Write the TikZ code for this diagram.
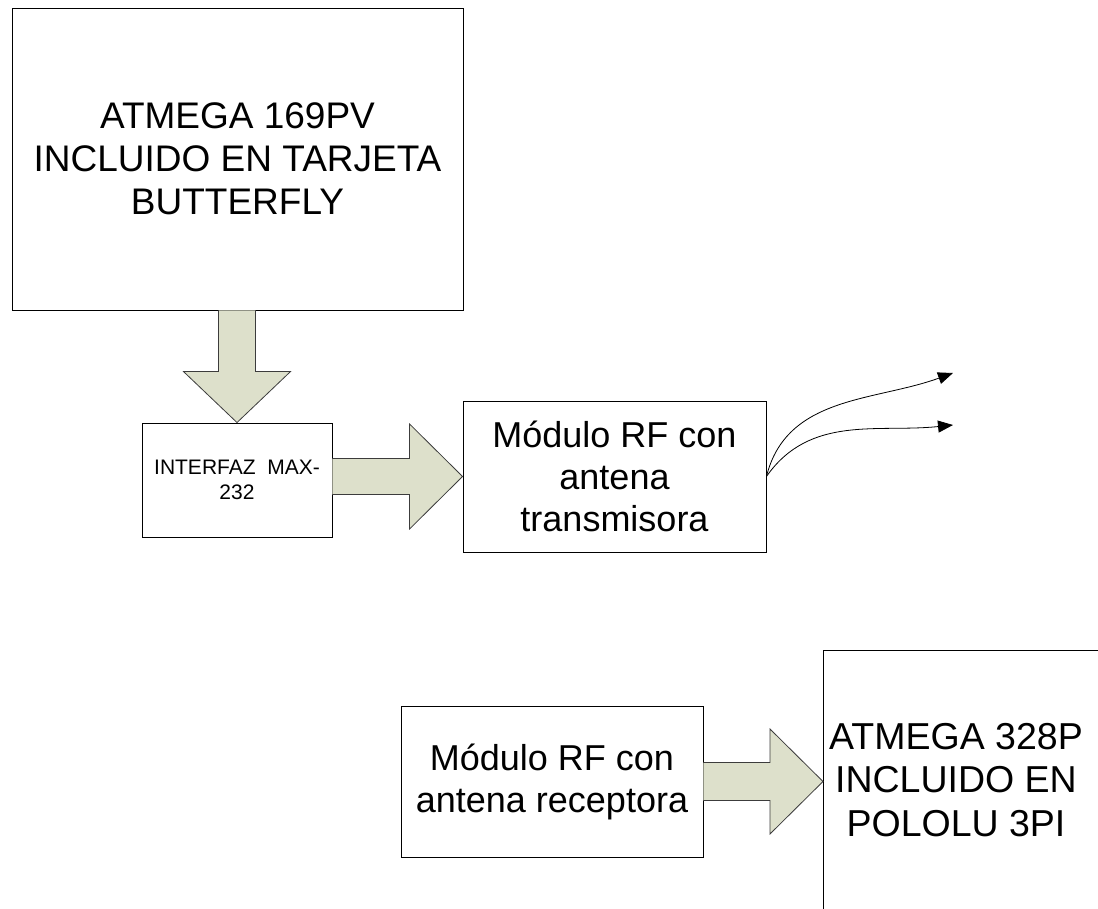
\documentclass[tikz,border=0pt]{standalone}
\usepackage{fontspec}
\setmainfont{Liberation Sans}
\usetikzlibrary{arrows.meta,calc,positioning}
\definecolor{arrowfill}{RGB}{221,224,203}
\definecolor{arrowline}{RGB}{60,60,60}

\begin{document}
\begin{tikzpicture}[x=1pt, y=-1pt,
    block/.style={draw, line width=0.9pt, align=center, inner sep=0pt},
    bigarrow/.style={draw=arrowline, fill=arrowfill, line width=0.8pt, line join=miter},
    signal/.style={-{Triangle[length=15pt,width=12pt]}, line width=0.8pt}]
    \useasboundingbox (0,0) rectangle (1098,909);
    \clip (0,0) rectangle (1098,909);

    % Blocks
    \node[block, minimum width=451pt, minimum height=302pt, font=\fontsize{37}{43}\selectfont]
        (butterfly) at (237.5,159) {ATMEGA 169PV\\INCLUIDO EN TARJETA\\BUTTERFLY};
    \node[block, minimum width=190pt, minimum height=114pt, font=\fontsize{21}{25}\selectfont]
        (max) at (237,480) {INTERFAZ\ \ MAX-\\232};
    \node[block, minimum width=303pt, minimum height=151pt, font=\fontsize{36}{42}\selectfont]
        (tx) at (614.5,476.5) {Módulo RF con\\antena\\transmisora};
    \node[block, minimum width=302pt, minimum height=151pt, font=\fontsize{36}{42}\selectfont]
        (rx) at (552,781.5) {Módulo RF con\\antena receptora};

    % Pololu board, cut off by the page edge
    \node[align=center, inner sep=0pt, font=\fontsize{37.5}{43.5}\selectfont]
        (pololu) at (956,780) {ATMEGA 328P\\INCLUIDO EN\\POLOLU 3PI};
    \draw[line width=0.9pt] (823,915) -- (823,650) -- (1110,650);
    \coordinate (pololuin) at (823,781.5);

    % Block arrows
    \coordinate (dtop) at (max.north |- butterfly.south);
    \draw[bigarrow] ($(dtop)+(-18.5,0)$) -- ($(max.north)+(-18.5,-51)$) -- ($(max.north)+(-53.5,-51)$)
        -- (max.north) -- ($(max.north)+(53.5,-51)$) -- ($(max.north)+(18.5,-51)$) -- ($(dtop)+(18.5,0)$);

    \coordinate (r1) at (max.east |- tx.west);
    \draw[bigarrow] ($(r1)+(0,-18)$) -- ($(tx.west)+(-53,-18)$) -- ($(tx.west)+(-53,-52.5)$)
        -- (tx.west) -- ($(tx.west)+(-53,52.5)$) -- ($(tx.west)+(-53,18)$) -- ($(r1)+(0,18)$);

    \draw[bigarrow] ($(rx.east)+(0,-19)$) -- ($(pololuin)+(-53,-19)$) -- ($(pololuin)+(-53,-52.5)$)
        -- (pololuin) -- ($(pololuin)+(-53,52.5)$) -- ($(pololuin)+(-53,19)$) -- ($(rx.east)+(0,19)$);

    % Radio signals
    \coordinate (sig1) at (953,373);
    \coordinate (sig2) at (953,425);
    \draw[signal] (tx.east) to[out=76, in=200] (sig1);
    \draw[signal] (tx.east) to[out=55, in=186] (sig2);
\end{tikzpicture}
\end{document}
